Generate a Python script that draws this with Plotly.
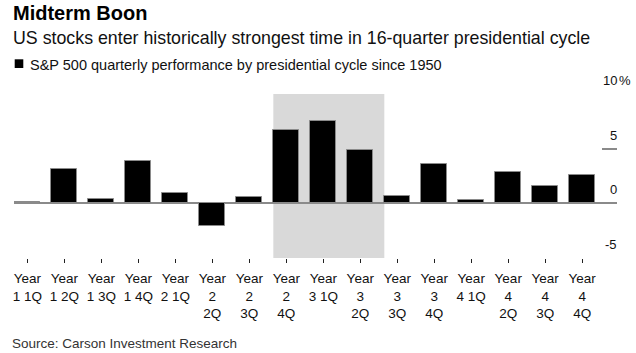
import plotly.graph_objects as go

# ---- data ----
categories = [
    "Year<br>1 1Q", "Year<br>1 2Q", "Year<br>1 3Q", "Year<br>1 4Q",
    "Year<br>2 1Q", "Year<br>2<br>2Q", "Year<br>2<br>3Q", "Year<br>2<br>4Q",
    "Year<br>3 1Q", "Year<br>3<br>2Q", "Year<br>3<br>3Q", "Year<br>3<br>4Q",
    "Year<br>4 1Q", "Year<br>4<br>2Q", "Year<br>4<br>3Q", "Year<br>4<br>4Q",
]
performance = [0.1, 3.15, 0.4, 3.9, 0.95, -2.05, 0.6, 6.7,
               7.5, 4.85, 0.7, 3.6, 0.3, 2.85, 1.6, 2.6]
highlight_start = "Year<br>2<br>4Q"
highlight_end = "Year<br>3<br>2Q"
y_ticks = [-5, 0, 5, 10]
y_tick_labels = ["-5", "0", "5", "10"]

W, H = 636, 353
L, R, T, B = 14, 19, 94, 95
PW, PH = W - L - R, H - T - B


def px_x(px):
    return (px - L) / PW


def px_y(py):
    return (H - B - py) / PH


BAR_W = 0.7

fig = go.Figure()
fig.add_trace(go.Bar(
    x=list(range(len(categories))),
    y=performance,
    width=BAR_W,
    marker=dict(color="#000000", line=dict(color="#8a8a8a", width=1)),
    showlegend=False,
    hoverinfo="skip",
))

i0 = categories.index(highlight_start)
i1 = categories.index(highlight_end)
fig.add_shape(type="rect", xref="x", yref="paper",
              x0=i0 - BAR_W / 2, x1=i1 + 0.65, y0=0, y1=1,
              fillcolor="#d9d9d9", line=dict(width=0), layer="below")

font = "Liberation Sans, Arial, Helvetica, sans-serif"

annotations = [
    dict(text="<b>Midterm Boon</b>", x=px_x(10.5), y=px_y(0), xanchor="left", yanchor="top",
         font=dict(size=20, color="#000000", family=font)),
    dict(text="US stocks enter historically strongest time in 16-quarter presidential cycle",
         x=px_x(10.5), y=px_y(26.3), xanchor="left", yanchor="top",
         font=dict(size=17.8, color="#111111", family=font)),
    dict(text="S&P 500 quarterly performance by presidential cycle since 1950",
         x=px_x(27.5), y=px_y(54.7), xanchor="left", yanchor="top",
         font=dict(size=14.5, color="#111111", family=font)),
    dict(text="Source: Carson Investment Research",
         x=px_x(10), y=px_y(334), xanchor="left", yanchor="top",
         font=dict(size=13.5, color="#333333", family=font)),
]
for v, lab in zip(y_ticks, y_tick_labels):
    annotations.append(dict(text=lab, xref="paper", yref="y", x=px_x(619), y=v,
                            xanchor="right", yanchor="bottom", yshift=4,
                            font=dict(size=13, color="#111111", family=font)))
annotations.append(dict(text="%", xref="paper", yref="y", x=px_x(617), y=y_ticks[-1],
                        xanchor="left", yanchor="bottom", yshift=4,
                        font=dict(size=13, color="#111111", family=font)))
for a in annotations:
    a.setdefault("xref", "paper")
    a.setdefault("yref", "paper")
    a["showarrow"] = False

fig.add_shape(type="rect", xref="paper", yref="paper",
              x0=px_x(14.7), x1=px_x(23.3), y0=px_y(68), y1=px_y(59.3),
              fillcolor="#000000", line=dict(width=0))

fig.update_layout(
    width=W, height=H,
    margin=dict(l=L, r=R, t=T, b=B, pad=0),
    paper_bgcolor="white", plot_bgcolor="white",
    annotations=annotations,
    bargap=0,
    xaxis=dict(
        tickmode="array", tickvals=list(range(len(categories))), ticktext=categories,
        range=[-0.36, 15.94], showgrid=False, zeroline=False, showline=False,
        ticks="outside", ticklen=4, tickwidth=1, tickcolor="#222222",
        tickfont=dict(size=13.5, color="#111111", family=font),
        ticklabelstandoff=4,
        tickangle=0, fixedrange=True,
    ),
    yaxis=dict(
        range=[-5, 10], side="right", tickvals=y_ticks, showticklabels=False,
        ticks="inside", ticklen=15, tickwidth=1.5, tickcolor="#8a8a8a",
        showgrid=False, zeroline=True, zerolinecolor="#8a8a8a", zerolinewidth=1.5,
        showline=False, fixedrange=True,
    ),
)

fig.write_html("out.html")
